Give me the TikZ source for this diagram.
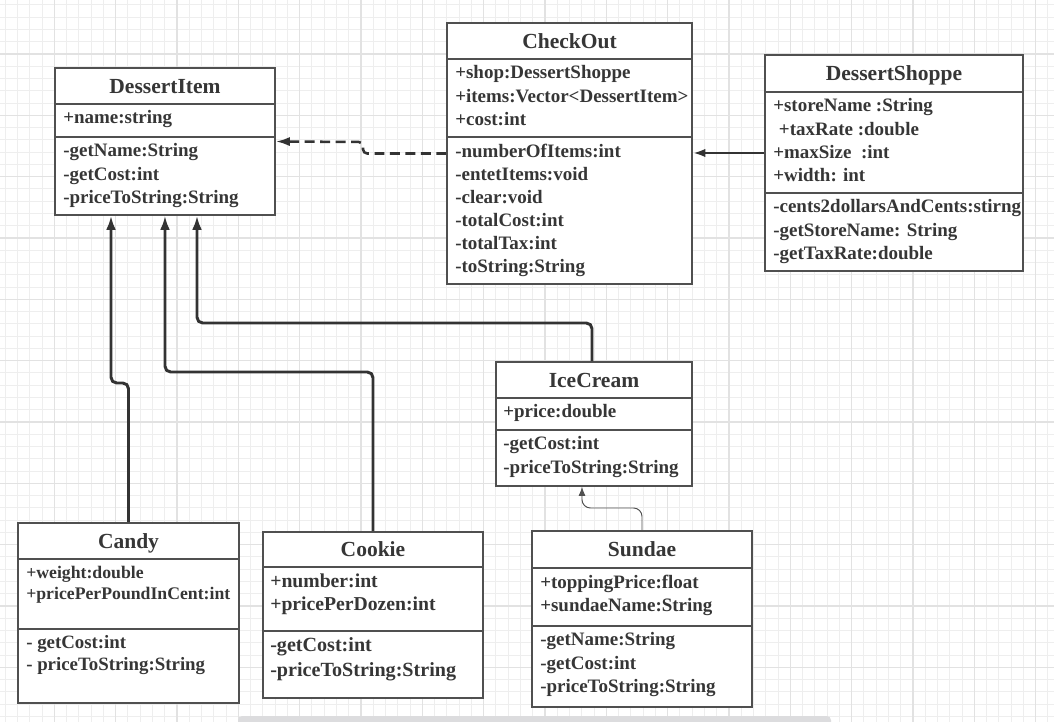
\documentclass[tikz,border=0pt]{standalone}
\usepackage{fontspec}
\setmainfont{Liberation Serif}
\definecolor{inkgray}{HTML}{363636}
\definecolor{boxgray}{HTML}{505050}
\definecolor{wiregray}{HTML}{333333}
\definecolor{gridminor}{HTML}{EEEEEE}
\definecolor{gridmajor}{HTML}{E2E2E2}
\definecolor{barfill}{HTML}{DCDCDE}
\usetikzlibrary{arrows.meta, positioning, fit}

\tikzset{
  classbox/.style={draw=boxgray, line width=1.1pt, fill=white, inner sep=0pt},
  classname/.style={font=\fontsize{15.3}{18}\selectfont\bfseries, text=inkgray, text height=10pt, text depth=0pt, inner sep=0pt},
  members/.style={font=\fontsize{13.5}{16.4}\selectfont\bfseries, text=inkgray, align=left, anchor=north west, inner sep=0pt},
  divider/.style={draw=boxgray, line width=1.1pt},
  inherit/.style={draw=wiregray, line width=2.1pt, rounded corners=4pt, -{Latex[length=10pt, width=7pt]}},
  thinlink/.style={draw=boxgray, line width=0.7pt, rounded corners=6pt, -{Latex[length=6.5pt, width=5pt]}},
  uses/.style={draw=wiregray, line width=1.8pt, dash pattern=on 7pt off 4pt, rounded corners=3pt, -{Latex[length=10pt, width=6.5pt]}},
  holds/.style={draw=wiregray, line width=1.8pt, -{Latex[length=9pt, width=6pt]}},
  minorgrid/.style={draw=gridminor, line width=0.7pt},
  majorgrid/.style={draw=gridmajor, line width=1pt}
}

\begin{document}
\begin{tikzpicture}[x=0.025cm, y=-0.025cm]
  \clip (0,0) rectangle (1054,722);
  \fill[white] (0,0) rectangle (1054,722);

  % background grid
  \foreach \k in {0,...,86} \draw[minorgrid] ({5.3+12.266*\k},0) -- ({5.3+12.266*\k},722);
  \foreach \k in {0,...,59} \draw[minorgrid] (0,{4.9+12.266*\k}) -- (1054,{4.9+12.266*\k});
  \foreach \k in {0,...,17} \draw[majorgrid] ({-6.9+61.33*\k},0) -- ({-6.9+61.33*\k},722);
  \foreach \k in {0,...,12} \draw[majorgrid] (0,{-7.3+61.33*\k}) -- (1054,{-7.3+61.33*\k});

  % DessertItem
  \node[classbox, fit={(55,68) (275,215)}] (item) {};
  \node[classname] (itemname) at (165,86) {DessertItem};
  \draw[divider] (55,104) -- (275,104);
  \draw[divider] (55,137) -- (275,137);
  \node[members] (itemattr) at (63,110.5) {+name:string};
  \node[members] (itemops) at (63,143.5) {-getName:String\\-getCost:int\\-priceToString:String};

  % CheckOut
  \node[classbox, fit={(447,23) (692,284)}] (checkout) {};
  \node[classname] (checkoutname) at (569.5,41) {CheckOut};
  \draw[divider] (447,59) -- (692,59);
  \draw[divider] (447,137) -- (692,137);
  \node[members] (checkoutattr) at (455,65.5) {+shop:DessertShoppe\\+items:Vector<DessertItem>\\+cost:int};
  \node[members] (checkoutops) at (455,143.5) {-numberOfItems:int\\-entetItems:void\\-clear:void\\-totalCost:int\\-totalTax:int\\-toString:String};

  % DessertShoppe
  \node[classbox, fit={(765,55) (1023,271)}] (shoppe) {};
  \node[classname] (shoppename) at (894,73.5) {DessertShoppe};
  \draw[divider] (765,92) -- (1023,92);
  \draw[divider] (765,193) -- (1023,193);
  \node[members] (shoppeattr) at (773,98.5) {+storeName :String\\\hspace{0.3em}+taxRate :double\\+maxSize\ \ :int\\+width: int};
  \node[members] (shoppeops) at (773,199.5) {-cents2dollarsAndCents:stirng\\-getStoreName: String\\-getTaxRate:double};

  % IceCream
  \node[classbox, fit={(496,362) (692,486)}] (icecream) {};
  \node[classname] (icecreamname) at (594,380) {IceCream};
  \draw[divider] (496,398) -- (692,398);
  \draw[divider] (496,430) -- (692,430);
  \node[members] (icecreamattr) at (503,404.5) {+price:double};
  \node[members] (icecreamops) at (503,436.5) {-getCost:int\\-priceToString:String};

  % Candy
  \node[classbox, fit={(18,523) (239,703)}] (candy) {};
  \node[classname] (candyname) at (128.5,541) {Candy};
  \draw[divider] (18,559) -- (239,559);
  \draw[divider] (18,629) -- (239,629);
  \node[members, font=\fontsize{12.6}{14.9}\selectfont\bfseries] (candyattr) at (26,565.5) {+weight:double\\+pricePerPoundInCent:int};
  \node[members, font=\fontsize{13.4}{15.6}\selectfont\bfseries] (candyops) at (26,635.5) {- getCost:int\\- priceToString:String};

  % Cookie
  \node[classbox, fit={(263,532) (483,698)}] (cookie) {};
  \node[classname] (cookiename) at (373,549.5) {Cookie};
  \draw[divider] (263,567) -- (483,567);
  \draw[divider] (263,631) -- (483,631);
  \node[members, font=\fontsize{14}{16.4}\selectfont\bfseries] (cookieattr) at (270,573.5) {+number:int\\+pricePerDozen:int};
  \node[members, font=\fontsize{14.3}{17.8}\selectfont\bfseries] (cookieops) at (270,637.5) {-getCost:int\\-priceToString:String};

  % Sundae
  \node[classbox, fit={(532,531) (752,707)}] (sundae) {};
  \node[classname] (sundaename) at (642,549.5) {Sundae};
  \draw[divider] (532,568) -- (752,568);
  \draw[divider] (532,626) -- (752,626);
  \node[members, font=\fontsize{13.5}{16.9}\selectfont\bfseries] (sundaeattr) at (540,574.5) {+toppingPrice:float\\+sundaeName:String};
  \node[members, font=\fontsize{13.5}{16.7}\selectfont\bfseries] (sundaeops) at (540,632.5) {-getName:String\\-getCost:int\\-priceToString:String};

  % Connectors
  \draw[inherit] (candy.north) |- (111,383) -- (item.south -| 111,0);
  \draw[inherit] (cookie.north) |- (165,372) -- (item.south -| 165,0);
  \draw[inherit] (icecream.north -| 592,0) |- (197,323) -- (item.south -| 197,0);
  \draw[thinlink] (sundae.north) |- (582,508) -- (icecream.south -| 582,0);
  \draw[uses] (checkout.west) -| (363,142) -- (item.east);
  \draw[holds] (shoppe.west |- 0,153) -- (checkout.east |- 0,153);

  % bottom bar
  \fill[barfill, rounded corners=3pt] (238,716) rectangle (831,730);
\end{tikzpicture}
\end{document}
